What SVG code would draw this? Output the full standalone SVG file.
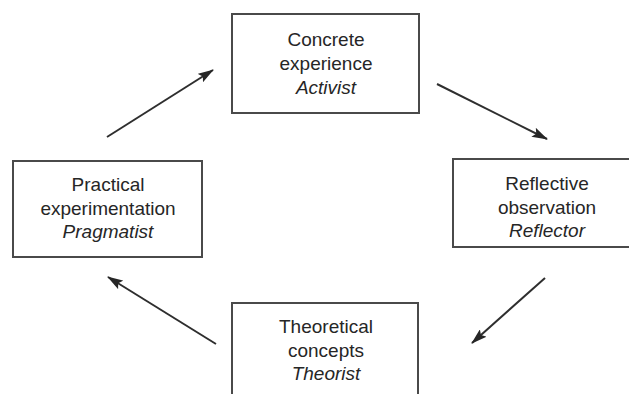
<svg xmlns="http://www.w3.org/2000/svg" width="629" height="394" viewBox="0 0 629 394">
  <defs>
    <marker id="head" viewBox="0 0 16 10" refX="15" refY="5" markerWidth="16" markerHeight="10" markerUnits="userSpaceOnUse" orient="auto">
      <path d="M0,0 L16,5 L0,10 L3,5 Z" fill="#262626"/>
    </marker>
    <style>
      .box { fill: #ffffff; stroke: #4a4a4a; stroke-width: 2; }
      .lbl { font-family: "Liberation Sans", Arial, Helvetica, sans-serif; font-size: 19px; fill: #262626; text-anchor: middle; }
      .it { font-style: italic; }
      .arrow { stroke: #2e2e2e; stroke-width: 2; fill: none; marker-end: url(#head); }
    </style>
  </defs>
  <rect width="629" height="394" fill="#ffffff"/>

  <g id="connectors">
    <line class="arrow" x1="107" y1="137" x2="213" y2="70"/>
    <line class="arrow" x1="437" y1="84" x2="547" y2="139"/>
    <line class="arrow" x1="545" y1="278" x2="472" y2="343"/>
    <line class="arrow" x1="216" y1="344" x2="108" y2="277"/>
  </g>

  <g id="concrete-experience">
    <rect class="box" x="232" y="14" width="187" height="99"/>
    <text class="lbl" x="326" y="46">Concrete</text>
    <text class="lbl" x="326" y="70">experience</text>
    <text class="lbl it" x="326" y="94">Activist</text>
  </g>

  <g id="reflective-observation">
    <rect class="box" x="453" y="159" width="200" height="88"/>
    <text class="lbl" x="547" y="190">Reflective</text>
    <text class="lbl" x="547" y="214">observation</text>
    <text class="lbl it" x="547" y="237">Reflector</text>
  </g>

  <g id="theoretical-concepts">
    <rect class="box" x="232" y="303" width="186" height="100"/>
    <text class="lbl" x="326" y="333">Theoretical</text>
    <text class="lbl" x="326" y="357">concepts</text>
    <text class="lbl it" x="326" y="380">Theorist</text>
  </g>

  <g id="practical-experimentation">
    <rect class="box" x="13" y="161" width="189" height="96"/>
    <text class="lbl" x="108" y="191">Practical</text>
    <text class="lbl" x="108" y="215">experimentation</text>
    <text class="lbl it" x="108" y="238">Pragmatist</text>
  </g>
</svg>
